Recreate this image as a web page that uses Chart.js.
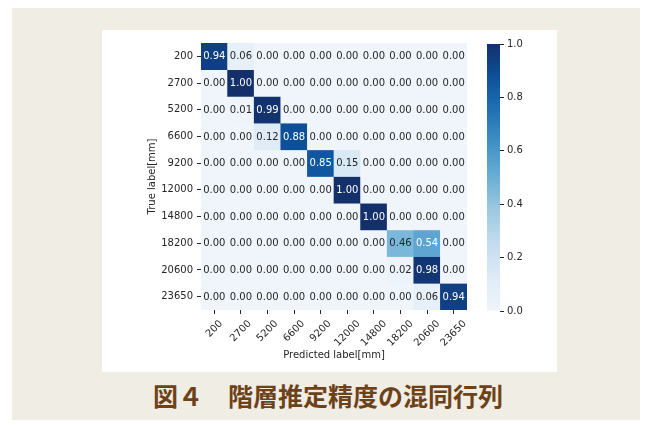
<!DOCTYPE html>
<html lang="ja">
<head>
<meta charset="UTF-8">
<title>図4 階層推定精度の混同行列</title>
<script src="https://cdn.jsdelivr.net/npm/chart.js"></script>
<style>
  body { margin: 0; background: #fff; width: 650px; height: 425px; position: relative; overflow: hidden; }
  #frame { position: absolute; left: 12px; top: 8px; width: 628px; height: 412px; background: #f0ede5; }
  #panel { position: absolute; left: 102px; top: 30px; width: 455px; height: 342px; background: #fff; }
  #matrix { position: absolute; left: 102px; top: 30px; }
  #scaleBar { position: absolute; left: 480px; top: 30px; }
  #caption {
    position: absolute; left: 0; width: 656px; top: 380px; text-align: center;
    font-family: "Noto Sans CJK JP", sans-serif; font-weight: bold; font-size: 25px;
    color: #6e4218; line-height: 30px;
  }
</style>
</head>
<body>
<div id="frame"></div>
<div id="panel"></div>
<canvas id="matrix" width="380" height="342"></canvas>
<canvas id="scaleBar" width="60" height="300"></canvas>
<div id="caption">図４　階層推定精度の混同行列</div>

<script>
// floor heights [mm]
const predLabels = ['200', '2700', '5200', '6600', '9200', '12000', '14800', '18200', '20600', '23650'];
const trueLabels = ['200', '2700', '5200', '6600', '9200', '12000', '14800', '18200', '20600', '23650'];

// one row per true floor, normalised
const row200   = [0.94, 0.06, 0.00, 0.00, 0.00, 0.00, 0.00, 0.00, 0.00, 0.00];
const row2700  = [0.00, 1.00, 0.00, 0.00, 0.00, 0.00, 0.00, 0.00, 0.00, 0.00];
const row5200  = [0.00, 0.01, 0.99, 0.00, 0.00, 0.00, 0.00, 0.00, 0.00, 0.00];
const row6600  = [0.00, 0.00, 0.12, 0.88, 0.00, 0.00, 0.00, 0.00, 0.00, 0.00];
const row9200  = [0.00, 0.00, 0.00, 0.00, 0.85, 0.15, 0.00, 0.00, 0.00, 0.00];
const row12000 = [0.00, 0.00, 0.00, 0.00, 0.00, 1.00, 0.00, 0.00, 0.00, 0.00];
const row14800 = [0.00, 0.00, 0.00, 0.00, 0.00, 0.00, 1.00, 0.00, 0.00, 0.00];
const row18200 = [0.00, 0.00, 0.00, 0.00, 0.00, 0.00, 0.00, 0.46, 0.54, 0.00];
const row20600 = [0.00, 0.00, 0.00, 0.00, 0.00, 0.00, 0.00, 0.02, 0.98, 0.00];
const row23650 = [0.00, 0.00, 0.00, 0.00, 0.00, 0.00, 0.00, 0.00, 0.06, 0.94];
const rows = [row200, row2700, row5200, row6600, row9200, row12000, row14800, row18200, row20600, row23650];

const barTicks = [0, 0.2, 0.4, 0.6, 0.8, 1.0];

// "Blues"-like ramp, light end a touch greyer
const blues = ['#eff5fa', '#deebf7', '#c6dbef', '#9ecae1', '#6baed6', '#4292c6', '#2171b5', '#0d519a', '#13306b'];

function hexRgb(h) {
  return [1, 3, 5].map(i => parseInt(h.slice(i, i + 2), 16));
}
function bluesAt(v) {
  const t = Math.max(0, Math.min(1, v)) * (blues.length - 1);
  const i = Math.min(Math.floor(t), blues.length - 2);
  const f = t - i;
  const a = hexRgb(blues[i]), b = hexRgb(blues[i + 1]);
  return a.map((c, k) => Math.round(c + (b[k] - c) * f));
}
function rgbStr(c) { return 'rgb(' + c.join(',') + ')'; }
function textColorFor(c) {
  // same rule seaborn uses for annotations
  const lin = c.map(x => { x /= 255; return x <= 0.03928 ? x / 12.92 : Math.pow((x + 0.055) / 1.055, 2.4); });
  const lum = 0.2126 * lin[0] + 0.7152 * lin[1] + 0.0722 * lin[2];
  return lum > 0.408 ? '#262626' : '#ffffff';
}

Chart.defaults.font.family = 'DejaVu Sans';
Chart.defaults.font.size = 10;
Chart.defaults.color = '#262626';

const tickText = '#262626';

// writes the value into every cell
const cellValues = {
  id: 'cellValues',
  afterDatasetsDraw(chart) {
    const c = chart.ctx;
    c.save();
    c.font = '10px "DejaVu Sans"';
    c.textAlign = 'center';
    c.textBaseline = 'middle';
    chart.data.datasets.forEach((ds, i) => {
      chart.getDatasetMeta(i).data.forEach((bar, j) => {
        const v = rows[i][j];
        c.fillStyle = textColorFor(bluesAt(v));
        c.fillText(v.toFixed(2), bar.x, (bar.y + bar.base) / 2 + 0.5);
      });
    });
    c.restore();
  }
};

// x tick labels turned 45deg, box centred under the tick like matplotlib
const slantedLabels = {
  id: 'slantedLabels',
  afterDraw(chart) {
    const xs = chart.scales.x;
    const c = chart.ctx;
    c.save();
    c.font = '10px "DejaVu Sans"';
    c.fillStyle = tickText;
    c.textAlign = 'center';
    c.textBaseline = 'middle';
    const h = 11.6;
    predLabels.forEach((lab, i) => {
      const w = c.measureText(lab).width;
      const side = (w + h) / Math.SQRT2;
      const x = xs.getPixelForTick(i);
      const y = xs.top + 8 + side / 2;
      c.save();
      c.translate(x, y);
      c.rotate(-Math.PI / 4);
      c.fillText(lab, 0, 0);
      c.restore();
    });
    c.restore();
  }
};

new Chart(document.getElementById('matrix'), {
  type: 'bar',
  data: {
    labels: predLabels,
    datasets: trueLabels.map((t, i) => ({
      label: t,
      data: predLabels.map(() => [i, i + 1]),
      backgroundColor: rows[i].map(v => rgbStr(bluesAt(v))),
      borderWidth: 0,
      barPercentage: 1,
      categoryPercentage: 1,
      grouped: false
    }))
  },
  options: {
    responsive: false,
    devicePixelRatio: 1,
    animation: false,
    layout: { padding: { left: 40, top: 13, right: 15, bottom: 10 } },
    plugins: { legend: { display: false }, tooltip: { enabled: false } },
    scales: {
      x: {
        type: 'category',
        border: { display: false },
        grid: { offset: false, drawOnChartArea: false, tickLength: 4, color: tickText, tickColor: tickText },
        ticks: { display: false },
        title: { display: true, text: 'Predicted label[mm]', color: tickText, padding: { top: 0, bottom: 1 } },
        afterFit(s) { s.height = 52; }
      },
      y: {
        type: 'linear',
        min: 0,
        max: trueLabels.length,
        reverse: true,
        border: { display: false },
        grid: { drawOnChartArea: false, tickLength: 4, tickColor: tickText },
        afterBuildTicks(s) { s.ticks = trueLabels.map((_, i) => ({ value: i + 0.5 })); },
        ticks: { autoSkip: false, padding: 4, color: tickText, callback: (v, i) => trueLabels[i] },
        title: { display: true, text: 'True label[mm]', color: tickText, padding: 4 },
        afterFit(s) { s.width = 59; }
      }
    }
  },
  plugins: [cellValues, slantedLabels]
});

// colour scale on the right
new Chart(document.getElementById('scaleBar'), {
  type: 'bar',
  data: {
    labels: [''],
    datasets: [{
      data: [[0, 1]],
      borderWidth: 0,
      barPercentage: 1,
      categoryPercentage: 1,
      backgroundColor(ctx) {
        const area = ctx.chart.chartArea;
        if (!area) return blues[4];
        const g = ctx.chart.ctx.createLinearGradient(0, area.bottom, 0, area.top);
        blues.forEach((col, k) => g.addColorStop(k / (blues.length - 1), col));
        return g;
      }
    }]
  },
  options: {
    responsive: false,
    devicePixelRatio: 1,
    animation: false,
    layout: { padding: { left: 7, top: 14, right: 10, bottom: 19 } },
    plugins: { legend: { display: false }, tooltip: { enabled: false } },
    scales: {
      x: { display: false },
      y: {
        position: 'right',
        min: 0,
        max: 1,
        border: { display: false },
        grid: { drawOnChartArea: false, tickLength: 4, tickColor: tickText },
        afterBuildTicks(s) { s.ticks = barTicks.map(v => ({ value: v })); },
        ticks: { padding: 3, color: tickText, callback: v => v.toFixed(1) },
        afterFit(s) { s.width = 30; }
      }
    }
  }
});
</script>
</body>
</html>
